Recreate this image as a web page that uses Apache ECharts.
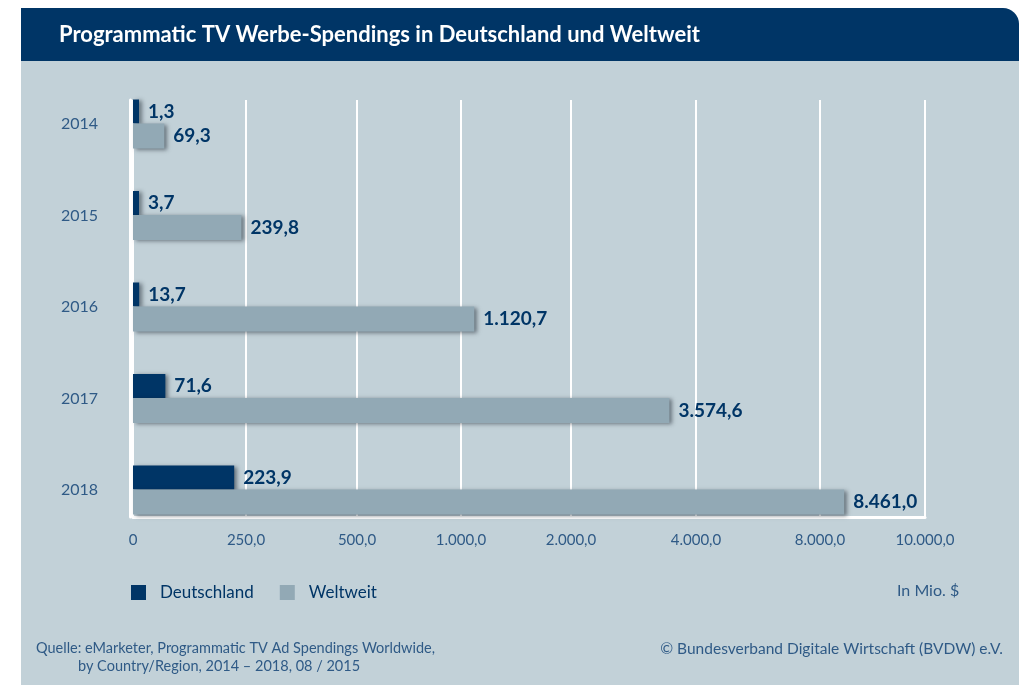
<!DOCTYPE html>
<html lang="de">
<head>
<meta charset="utf-8">
<title>Programmatic TV Werbe-Spendings in Deutschland und Weltweit</title>
<script src="https://cdn.jsdelivr.net/npm/echarts@6/dist/echarts.min.js"></script>
<style>
  html, body { margin: 0; padding: 0; background: #ffffff; }
  #chart { width: 1021px; height: 685px; }
</style>
</head>
<body>
<div id="chart"></div>
<script>
// Spendings in Mio. $
const YEARS = ['2014', '2015', '2016', '2017', '2018'];
const DEUTSCHLAND = [1.3, 3.7, 13.7, 71.6, 223.9];
const WELTWEIT = [69.3, 239.8, 1120.7, 3574.6, 8461.0];
const TICKS = [0, 250, 500, 1000, 2000, 4000, 8000, 10000];
const SERIES_NAMES = ['Deutschland', 'Weltweit'];

// Piecewise axis: each tick interval gets its own span on the value axis
const TICK_POS = [0, 113, 224, 328, 438, 563, 687, 792];

function toAxis(v) {
  for (let i = 0; i < TICKS.length - 1; i++) {
    if (v <= TICKS[i + 1]) {
      const t = (v - TICKS[i]) / (TICKS[i + 1] - TICKS[i]);
      return TICK_POS[i] + t * (TICK_POS[i + 1] - TICK_POS[i]);
    }
  }
  return TICK_POS[TICK_POS.length - 1];
}

function fmtDe(v) {
  const parts = v.toFixed(1).split('.');
  const intPart = parts[0].replace(/\B(?=(\d{3})+(?!\d))/g, '.');
  return intPart + ',' + parts[1];
}

const NAVY = '#003566';
const GREY = '#92a9b5';
const TEXT = '#2f5a86';
const FONT = 'Lato, "Open Sans", sans-serif';

const barShadow = {
  shadowColor: 'rgba(20, 30, 40, 0.5)',
  shadowBlur: 4,
  shadowOffsetX: 3,
  shadowOffsetY: 1
};

const valueLabel = (values) => ({
  show: true,
  position: 'right',
  distance: 9,
  color: NAVY,
  fontFamily: FONT,
  fontSize: 19,
  fontWeight: 'bold',
  formatter: (p) => fmtDe(values[p.dataIndex])
});

const chart = echarts.init(document.getElementById('chart'), null, { renderer: 'canvas' });

chart.setOption({
  animation: false,
  textStyle: { fontFamily: FONT },
  title: {
    text: 'Programmatic TV Werbe-Spendings in Deutschland und Weltweit',
    left: 59,
    top: 24,
    padding: 0,
    textStyle: { color: '#ffffff', fontSize: 22, fontWeight: 'bold', fontFamily: FONT }
  },
  legend: {
    data: SERIES_NAMES,
    left: 131,
    top: 584,
    padding: 0,
    itemWidth: 15,
    itemHeight: 15,
    itemGap: 26,
    icon: 'rect',
    itemStyle: { shadowBlur: 0, shadowOffsetX: 0, shadowOffsetY: 0 },
    textStyle: { color: NAVY, fontSize: 17, fontFamily: FONT, padding: [0, 0, 0, 9] }
  },
  graphic: [
    {
      type: 'rect', z: -10, silent: true,
      shape: { x: 21, y: 60, width: 998, height: 625 },
      style: { fill: '#c2d1d8' }
    },
    {
      type: 'rect', z: -9, silent: true,
      shape: { x: 21, y: 8, width: 998, height: 53, r: [0, 16, 0, 0] },
      style: { fill: NAVY }
    },
    {
      type: 'text', left: 897, top: 583,
      style: { text: 'In Mio. $', fill: TEXT, font: '16px ' + FONT }
    },
    {
      type: 'text', left: 36, top: 641,
      style: {
        text: 'Quelle: eMarketer, Programmatic TV Ad Spendings Worldwide,',
        fill: TEXT, font: '14.5px ' + FONT
      }
    },
    {
      type: 'text', left: 78, top: 659,
      style: {
        text: 'by Country/Region, 2014 – 2018, 08 / 2015',
        fill: TEXT, font: '14.5px ' + FONT
      }
    },
    {
      type: 'text', right: 18, top: 641,
      style: {
        text: '© Bundesverband Digitale Wirtschaft (BVDW) e.V.',
        fill: TEXT, font: '15.5px ' + FONT
      }
    }
  ],
  grid: [
    // frame, gridlines and value labels
    { left: 133, right: 96, top: 100, bottom: 168 },
    // bars and year labels
    { left: 133, right: 96, top: 78.25, bottom: 149.25 }
  ],
  xAxis: [
    {
      gridIndex: 0,
      type: 'value',
      min: 0,
      max: TICK_POS[TICK_POS.length - 1],
      axisLine: { show: true, onZero: false, lineStyle: { color: '#ffffff', width: 3 } },
      axisTick: { show: false, customValues: TICK_POS },
      axisLabel: {
        customValues: TICK_POS,
        color: TEXT,
        fontSize: 15,
        fontFamily: FONT,
        margin: 16,
        formatter: (v) => {
          const i = TICK_POS.indexOf(v);
          const t = TICKS[i];
          return t === 0 ? '0' : fmtDe(t);
        }
      },
      splitLine: { show: true, lineStyle: { color: '#ffffff', width: 2 } }
    },
    {
      gridIndex: 1,
      type: 'value',
      min: 0,
      max: TICK_POS[TICK_POS.length - 1],
      show: false
    }
  ],
  yAxis: [
    {
      gridIndex: 0,
      type: 'value',
      min: 0,
      max: 1,
      offset: 3,
      axisLine: { show: true, onZero: false, lineStyle: { color: '#ffffff', width: 3 } },
      axisTick: { show: false },
      axisLabel: { show: false },
      splitLine: { show: false }
    },
    {
      gridIndex: 1,
      type: 'category',
      data: YEARS,
      inverse: true,
      axisLine: { show: false },
      axisTick: { show: false },
      axisLabel: { color: TEXT, fontSize: 16, fontFamily: FONT, margin: 35, padding: [0, 0, 5, 0] }
    }
  ],
  series: [
    {
      name: SERIES_NAMES[0],
      type: 'bar',
      xAxisIndex: 1,
      yAxisIndex: 1,
      barWidth: 24,
      barGap: 0,
      barMinHeight: 6,
      data: DEUTSCHLAND.map(toAxis),
      itemStyle: Object.assign({ color: NAVY }, barShadow),
      label: valueLabel(DEUTSCHLAND)
    },
    {
      name: SERIES_NAMES[1],
      type: 'bar',
      xAxisIndex: 1,
      yAxisIndex: 1,
      barWidth: 25,
      barGap: 0,
      data: WELTWEIT.map(toAxis),
      itemStyle: Object.assign({ color: GREY }, barShadow),
      label: valueLabel(WELTWEIT)
    }
  ]
});
</script>
</body>
</html>
